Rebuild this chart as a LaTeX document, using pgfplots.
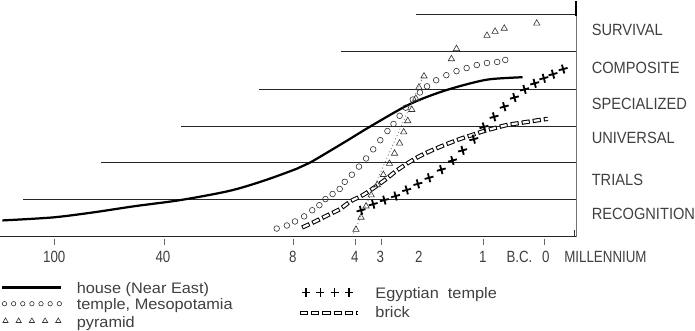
\documentclass[border=0pt]{standalone}
\usepackage{fontspec}
\setmainfont{Liberation Sans}
\newfontfamily\labf[FakeStretch=0.9]{Liberation Sans}
\newfontfamily\tickf[FakeStretch=0.82]{Liberation Sans}
\newfontfamily\legf[FakeStretch=1.07]{Liberation Sans}
\usepackage{pgfplots}
\pgfplotsset{compat=1.18}
\tikzset{
  grid line/.style={black!85, line width=0.8pt},
  lab/.style={anchor=base west, font=\labf\fontsize{16}{18}\selectfont, text=black!75, inner sep=0pt},
  tk/.style={anchor=base, font=\tickf\fontsize{16}{18}\selectfont, text=black!75, inner sep=0pt},
  lg/.style={anchor=base west, font=\legf\fontsize{15}{17}\selectfont, text=black!75, inner sep=0pt},
  brickout/.style={black, line width=4.2pt, dash pattern=on 8pt off 3pt},
  brickin/.style={white, line width=2.2pt, dash pattern=on 6pt off 5pt, dash phase=10pt},
}
\pgfplotsset{
  egypt/.style={only marks, mark=+, mark size=4.5pt, mark options={line width=1.8pt, rotate=15}, black},
  temple/.style={only marks, mark=o, mark size=2.8pt, mark options={line width=0.6pt}, black!80},
  pyr/.style={only marks, mark=triangle, mark size=3.6pt, mark options={line width=0.6pt}, black!80},
}
\begin{document}
\begin{tikzpicture}
\begin{axis}[x=1pt, y=1pt, xmin=0, xmax=695, ymin=0, ymax=345, y dir=reverse,
  hide axis, clip=false]
% level lines
\addplot[grid line] coordinates {(8,237) (575,237)};
\addplot[grid line] coordinates {(30,200) (575,200)};
\addplot[grid line] coordinates {(107,164) (575,164)};
\addplot[grid line] coordinates {(186,128) (575,128)};
\addplot[grid line] coordinates {(263,92) (575,92)};
\addplot[grid line] coordinates {(343,55) (575,55)};
\addplot[grid line] coordinates {(417,18) (575,18)};
% right frame
\addplot[black!55, line width=1.2pt] coordinates {(575,5) (575,237)};
\addplot[black, line width=2pt] coordinates {(575,5) (575,20)};
\addplot[black!80, line width=0.8pt] coordinates {(573,230) (573,237)};
% ticks
\addplot[black!60, line width=0.6pt] coordinates {(61,239) (61,245)};
\addplot[black!60, line width=0.6pt] coordinates {(169,239) (169,245)};
\addplot[black!60, line width=0.6pt] coordinates {(296,239) (296,245)};
\addplot[black!60, line width=0.6pt] coordinates {(357,239) (357,245)};
\addplot[black!60, line width=0.6pt] coordinates {(383,239) (383,245)};
\addplot[black!60, line width=0.6pt] coordinates {(483,239) (483,245)};
\addplot[black!60, line width=0.6pt] coordinates {(543,239) (543,245)};
% house (Near East)
\addplot[black, line width=2.2pt, smooth] coordinates {
 (10,221) (60,218) (100,213) (140,207) (185,201) (233,192) (267,182) (300,170)
 (313,164) (340,148) (350,142) (373,128) (410,107) (440,95) (467,87) (490,82) (522,80)};
% brick
\addplot[brickout, smooth] coordinates {
 (305,228) (318,222) (330,216) (342,210) (353,202) (365,196) (377,188) (388,180)
 (398,172) (410,164) (422,157) (435,151) (447,146) (460,141) (472,137) (484,133)
 (495,130) (507,127) (520,125) (533,123) (547,121)};
\addplot[brickin, smooth] coordinates {
 (305,228) (318,222) (330,216) (342,210) (353,202) (365,196) (377,188) (388,180)
 (398,172) (410,164) (422,157) (435,151) (447,146) (460,141) (472,137) (484,133)
 (495,130) (507,127) (520,125) (533,123) (547,121)};
% temple, Mesopotamia
\addplot[temple] coordinates {
 (280,229) (290,226) (298,222) (307,217) (315,211) (322,206) (328,200) (335,195)
 (342,190) (347,183) (354,176) (361,168) (368,160) (375,151) (382,142) (389,133)
 (395,126) (401,118) (407,110) (414,102) (421,95) (428,89) (437,83) (447,78)
 (457,74) (467,71) (477,68) (487,66) (497,65) (505,63)};
% pyramid
\addplot[black!60, line width=0.7pt, dash pattern=on 1pt off 2.5pt] coordinates {(354,237) (425,78)};
\addplot[pyr] coordinates {
 (358,230) (363,218) (368,207) (373,196) (379,186) (385,176) (391,165)
 (396,155) (401,145) (405,134) (409,123) (413,112) (417,101) (420,90)
 (425,79) (452,62) (457,52) (487,39) (495,35) (504,32) (536,27)};
% Egyptian temple
\addplot[egypt] coordinates {
 (363,211) (375,205) (386,201) (397,197) (408,191) (419,185) (430,179) (442,171)
 (453,162) (463,152) (474,141) (484,129) (494,119) (504,109) (514,100) (524,92)
 (534,86) (543,81) (552,77) (562,72)};
% right labels
\node[lab] at (590,39) {SURVIVAL};
\node[lab] at (590,76) {COMPOSITE};
\node[lab] at (590,112) {SPECIALIZED};
\node[lab] at (590,145) {UNIVERSAL};
\node[lab] at (590,187) {TRIALS};
\node[lab] at (590,220) {RECOGNITION};
% tick labels
\node[tk] at (61,262) {100};
\node[tk] at (168,262) {40};
\node[tk] at (296,262) {8};
\node[tk] at (357,262) {4};
\node[tk] at (382,262) {3};
\node[tk] at (420,262) {2};
\node[tk] at (483,262) {1};
\node[tk] at (519,262) {B.C.};
\node[tk] at (545,262) {0};
\node[tk, anchor=base west] at (563,262) {MILLENNIUM};
% legend samples
\addplot[black, line width=2.2pt] coordinates {(10,287) (68,287)};
\addplot[temple, mark size=2.2pt] coordinates {(12,303) (21,303) (30,303) (39,303) (48,303) (57,303) (66,303)};
\addplot[pyr, mark size=3pt] coordinates {(13,320) (26,320) (39,320) (52,320) (65,320)};
\addplot[egypt, mark size=4pt, mark options={line width=1.5pt, rotate=0}] coordinates {(309,292) (323,292) (337,292) (351,292)};
\addplot[brickout] coordinates {(303,312) (360,312)};
\addplot[brickin] coordinates {(303,312) (360,312)};
% legend texts
\node[lg] at (83,293) {house\ (Near\ East)};
\node[lg] at (83,309) {temple,\ Mesopotamia};
\node[lg] at (83,326) {pyramid};
\node[lg] at (377,298) {Egyptian\ \ temple};
\node[lg] at (377,317) {brick};
\end{axis}
\end{tikzpicture}
\end{document}
